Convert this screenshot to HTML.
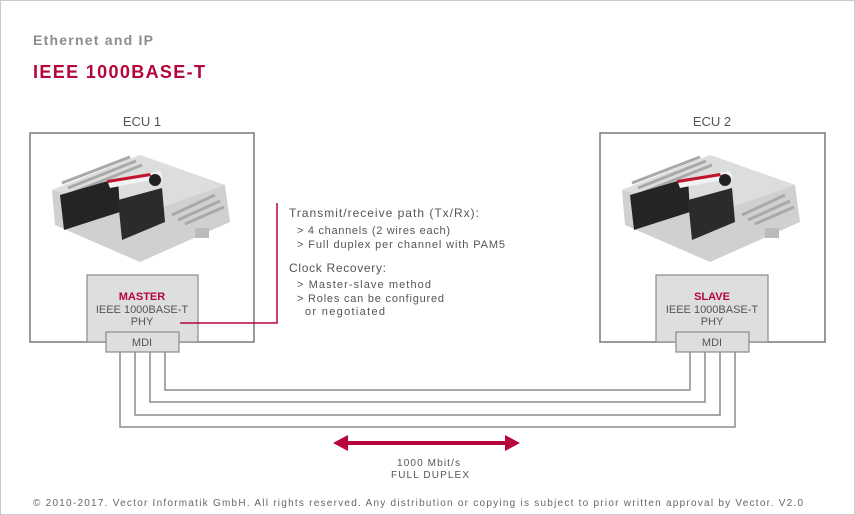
<!DOCTYPE html>
<html><head><style>
body{margin:0;width:855px;height:515px;overflow:hidden;background:#fff}
svg{display:block;font-family:"Liberation Sans",sans-serif}
</style></head><body>
<svg width="855" height="515" viewBox="0 0 855 515">
<rect x="0.5" y="0.5" width="854" height="514" fill="#fff" stroke="#c8cacc"/>
<text x="33" y="45" font-size="14" font-weight="bold" fill="#8a8d90" textLength="120" lengthAdjust="spacing">Ethernet and IP</text>
<text x="33" y="78" font-size="18" font-weight="bold" fill="#b5053a" textLength="172" lengthAdjust="spacing">IEEE 1000BASE-T</text>

<g id="ecu">
<polygon points="52,190 140,155 225,185 230,222 140,262 55,225" fill="#cfd0d1"/>
<polygon points="52,190 140,155 225,185 140,215" fill="#dcdddd"/>
<g stroke="#a8a9aa" stroke-width="3">
<line x1="62" y1="183" x2="130" y2="157"/><line x1="68" y1="188" x2="136" y2="161"/><line x1="74" y1="192" x2="142" y2="165"/>
<line x1="172" y1="215" x2="215" y2="195"/><line x1="178" y1="220" x2="220" y2="201"/><line x1="185" y1="224" x2="224" y2="207"/>
</g>
<polygon points="60,195 118,178 120,212 64,230" fill="#232425"/>
<polygon points="118,200 162,188 165,222 122,240" fill="#2a2b2c"/>
<polygon points="107,180 160,171 163,178 110,188" fill="#f2f2f2"/>
<polygon points="107,180 150,173 151,176 108,183" fill="#c0142f"/>
<circle cx="155" cy="180" r="6" fill="#222"/>
<rect x="195" y="228" width="14" height="10" fill="#bbb"/>
</g>
<use href="#ecu" x="570"/>

<g fill="none" stroke="#77797b" stroke-width="1.5">
<rect x="30" y="133" width="224" height="209"/>
<rect x="600" y="133" width="225" height="209"/>
</g>
<text x="142" y="126" font-size="13" fill="#555" text-anchor="middle">ECU 1</text>
<text x="712" y="126" font-size="13" fill="#555" text-anchor="middle">ECU 2</text>

<g fill="#dcdee0" stroke="#8a8c8e" stroke-width="1.2">
<rect x="87" y="275" width="111" height="67"/>
<rect x="656" y="275" width="112" height="67"/>
</g>
<g fill="none" stroke="#8a8c8e" stroke-width="1.5">
<polyline points="120,352 120,427 735,427 735,352"/>
<polyline points="135,352 135,415 720,415 720,352"/>
<polyline points="150,352 150,402 705,402 705,352"/>
<polyline points="165,352 165,390 690,390 690,352"/>
</g>
<g fill="#dcdee0" stroke="#8a8c8e" stroke-width="1.2">
<rect x="106" y="332" width="73" height="20"/>
<rect x="676" y="332" width="73" height="20"/>
</g>
<g font-size="11" fill="#555" text-anchor="middle">
<text x="142" y="300" font-weight="bold" fill="#b5053a">MASTER</text>
<text x="142" y="313">IEEE 1000BASE-T</text>
<text x="142" y="325">PHY</text>
<text x="142" y="346">MDI</text>
<text x="712" y="300" font-weight="bold" fill="#b5053a">SLAVE</text>
<text x="712" y="313">IEEE 1000BASE-T</text>
<text x="712" y="325">PHY</text>
<text x="712" y="346">MDI</text>
</g>
<polyline points="180,323 277,323 277,203" fill="none" stroke="#b5053a" stroke-width="1.5"/>
<g font-size="12" fill="#555" lengthAdjust="spacing">
<text x="289" y="217" textLength="190" lengthAdjust="spacing">Transmit/receive path (Tx/Rx):</text>
<text x="297" y="234" font-size="11" textLength="153" lengthAdjust="spacing">&gt; 4 channels (2 wires each)</text>
<text x="297" y="248" font-size="11" textLength="208" lengthAdjust="spacing">&gt; Full duplex per channel with PAM5</text>
<text x="289" y="272" textLength="97" lengthAdjust="spacing">Clock Recovery:</text>
<text x="297" y="288" font-size="11" textLength="134" lengthAdjust="spacing">&gt; Master-slave method</text>
<text x="297" y="302" font-size="11" textLength="147" lengthAdjust="spacing">&gt; Roles can be configured</text>
<text x="305" y="315" font-size="11" textLength="80" lengthAdjust="spacing">or negotiated</text>
</g>
<line x1="345" y1="443" x2="508" y2="443" stroke="#b5053a" stroke-width="4"/>
<polygon points="333,443 348,435 348,451" fill="#b5053a"/>
<polygon points="520,443 505,435 505,451" fill="#b5053a"/>
<text x="397" y="466" font-size="10" fill="#555" textLength="63" lengthAdjust="spacing">1000 Mbit/s</text>
<text x="391" y="478" font-size="10" fill="#555" textLength="78" lengthAdjust="spacing">FULL DUPLEX</text>
<text x="33" y="506" font-size="10" fill="#666" textLength="770" lengthAdjust="spacing">© 2010-2017. Vector Informatik GmbH. All rights reserved. Any distribution or copying is subject to prior written approval by Vector. V2.0</text>
</svg>
</body></html>
